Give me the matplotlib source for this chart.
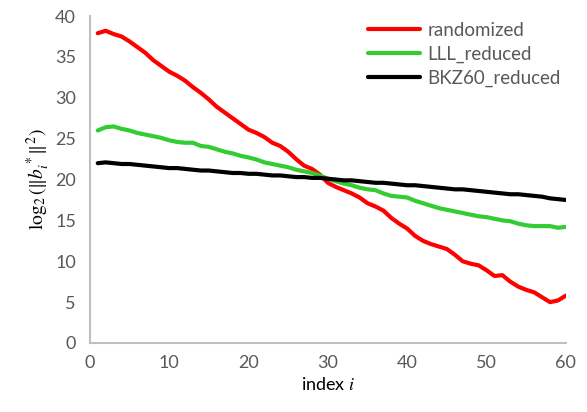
import matplotlib
matplotlib.use('Agg')
import matplotlib.pyplot as plt
import numpy as np

plt.rcParams['font.family'] = ['Lato', 'DejaVu Sans']
plt.rcParams['mathtext.fontset'] = 'stix'

index = np.arange(1, 61)

randomized = [37.9, 38.2, 37.8, 37.5, 36.9, 36.2, 35.5, 34.6, 33.9, 33.2,
              32.7, 32.1, 31.3, 30.6, 29.8, 28.9, 28.2, 27.5, 26.8, 26.1,
              25.7, 25.2, 24.5, 24.1, 23.4, 22.5, 21.7, 21.3, 20.6, 19.6,
              19.1, 18.7, 18.3, 17.8, 17.1, 16.7, 16.2, 15.3, 14.6, 14.0,
              13.1, 12.5, 12.1, 11.8, 11.5, 10.8, 10.0, 9.7, 9.5, 8.9,
              8.2, 8.3, 7.5, 6.9, 6.5, 6.2, 5.6, 5.0, 5.2, 5.8]

lll_reduced = [26.0, 26.4, 26.5, 26.2, 26.0, 25.7, 25.5, 25.3, 25.1, 24.8,
               24.6, 24.5, 24.5, 24.1, 24.0, 23.7, 23.4, 23.2, 22.9, 22.7,
               22.45, 22.1, 21.9, 21.7, 21.5, 21.2, 21.0, 20.8, 20.5, 20.1,
               19.8, 19.5, 19.3, 19.0, 18.8, 18.7, 18.3, 18.0, 17.9, 17.8,
               17.4, 17.1, 16.8, 16.5, 16.3, 16.1, 15.9, 15.7, 15.5, 15.4,
               15.2, 15.0, 14.9, 14.6, 14.4, 14.3, 14.3, 14.3, 14.1, 14.2]

bkz60_reduced = [22.0, 22.1, 22.0, 21.9, 21.9, 21.8, 21.7, 21.6, 21.5, 21.4,
                 21.4, 21.3, 21.2, 21.1, 21.1, 21.0, 20.9, 20.8, 20.8, 20.7,
                 20.7, 20.6, 20.5, 20.5, 20.4, 20.3, 20.3, 20.2, 20.2, 20.1,
                 20.0, 19.9, 19.9, 19.8, 19.7, 19.6, 19.6, 19.5, 19.4, 19.3,
                 19.3, 19.2, 19.1, 19.0, 18.9, 18.8, 18.8, 18.7, 18.6, 18.5,
                 18.4, 18.3, 18.2, 18.2, 18.1, 18.0, 17.9, 17.7, 17.6, 17.5]

fig = plt.figure(figsize=(5.87, 4.12), dpi=100)
ax = fig.add_axes([0.153, 0.1675, 0.811, 0.7935])

style = dict(lw=3, solid_joinstyle='round', solid_capstyle='round')
ax.plot(index, randomized, color='#ff0000', label='randomized', **style)
ax.plot(index, lll_reduced, color='#33cc33', label='LLL_reduced', **style)
ax.plot(index, bkz60_reduced, color='#000000', label='BKZ60_reduced', **style)

ax.set_xlim(0, 60)
ax.set_ylim(0, 40)
ax.set_xticks(range(0, 61, 10))
ax.set_yticks(range(0, 41, 5))

for s in ['top', 'right']:
    ax.spines[s].set_visible(False)
for s in ['left', 'bottom']:
    ax.spines[s].set_color('#bfbfbf')
    ax.spines[s].set_linewidth(1.5)

ax.tick_params(length=0, labelsize=13, labelcolor='#595959')
ax.tick_params(axis='y', pad=10)
ax.tick_params(axis='x', pad=9)

ax.set_xlabel(r'index $i$', fontsize=13, labelpad=3)
ax.set_ylabel(r'$\log_2(\|b_i^*\|^2)$', fontsize=14, labelpad=2)

ax.legend(loc='upper right', bbox_to_anchor=(1.025, 1.035), frameon=False,
          fontsize=13.5, handlelength=2.8, handletextpad=0.4,
          labelspacing=0.37, labelcolor='#595959')

fig.savefig('out.png', dpi=100)
